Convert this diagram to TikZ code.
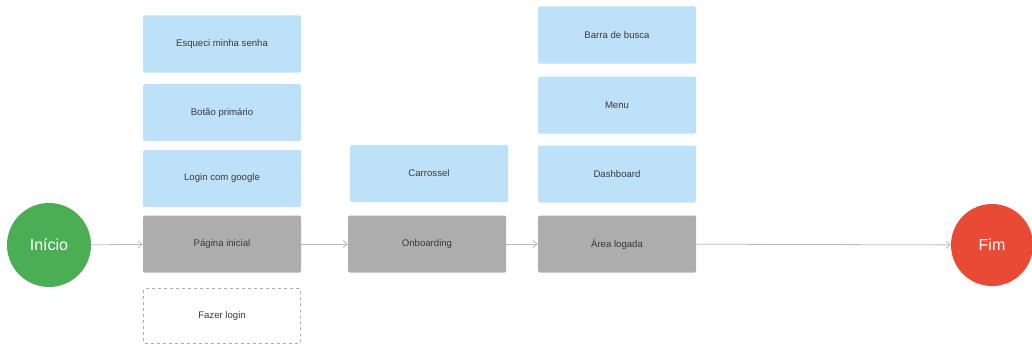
\documentclass[tikz,border=0pt]{standalone}
\usepackage{fontspec}
\setmainfont{Liberation Sans}
\usetikzlibrary{arrows.meta}
\definecolor{boxblue}{HTML}{BDE1F8}
\definecolor{boxgray}{HTML}{ADADAD}
\definecolor{startgreen}{HTML}{4BAE55}
\definecolor{endred}{HTML}{E84A35}
\definecolor{txt}{HTML}{3A3A3A}
\definecolor{linegray}{HTML}{BBBBBB}
\tikzset{
  boxfont/.style={text=txt, font=\fontsize{9.6}{11}\selectfont},
  bluebox/.style={fill=boxblue, draw=none, rounded corners=1.5pt, minimum width=158pt, minimum height=57pt, inner sep=0pt, boxfont},
  graybox/.style={fill=boxgray, draw=none, rounded corners=1.5pt, minimum width=158pt, minimum height=57pt, inner sep=0pt, boxfont},
  dashbox/.style={draw=boxgray, dashed, line width=0.8pt, rounded corners=1.5pt, minimum width=157pt, minimum height=55pt, inner sep=0pt, boxfont},
  endpoint/.style={circle, draw=none, minimum size=84pt, inner sep=0pt, text=white, font=\fontsize{16}{18}\selectfont},
  flow/.style={draw=linegray, line width=0.8pt, -{Straight Barb[length=4pt,width=7pt]}},
}
\begin{document}
\begin{tikzpicture}[x=1pt,y=-1pt]
\useasboundingbox (0,0) rectangle (1032,345);
% start / end
\node[endpoint, fill=startgreen] (inicio) at (49,245) {Início};
\node[endpoint, fill=endred, minimum size=82pt] (fim) at (992,245) {Fim};
% column 1
\node[bluebox] (esqueci) at (222,44) {Esqueci minha senha};
\node[bluebox] (botao) at (222,112.5) {Botão primário};
\node[bluebox] (google) at (222,178.5) {Login com google};
\node[graybox] (pagina) at (222,244) {Página inicial};
\node[dashbox] (fazer) at (222,316) {Fazer login};
% column 2
\node[bluebox] (carrossel) at (429,173.5) {Carrossel};
\node[graybox] (onboarding) at (427,244) {Onboarding};
% column 3
\node[bluebox] (barra) at (617,35) {Barra de busca};
\node[bluebox] (menu) at (617,105) {Menu};
\node[bluebox] (dashboard) at (617,174) {Dashboard};
\node[graybox] (area) at (617,244) {Área logada};
% connectors
\draw[flow] (inicio) -- (pagina);
\draw[flow] (pagina) -- (onboarding);
\draw[flow] (onboarding) -- (area);
\draw[flow] (area) -- (fim);
\end{tikzpicture}
\end{document}
